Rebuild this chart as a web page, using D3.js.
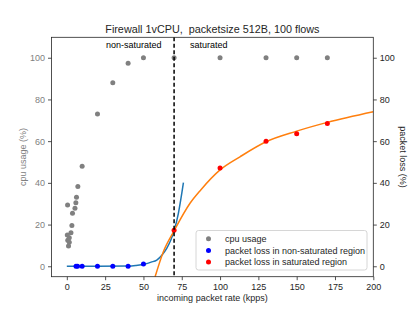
<!DOCTYPE html>
<html>
<head>
<meta charset="utf-8">
<script src="https://cdn.jsdelivr.net/npm/d3@7"></script>
<style>
  body { margin: 0; background: #fff; }
  svg { font-family: "Liberation Sans", Arial, sans-serif; }
</style>
</head>
<body>
<script>
// cpu usage measurements (left axis)
const cpuX = [0.3, 0.5, 0.6, 1.1, 1.6, 1.6, 2.7, 3.3, 3.7, 5.3, 5.9, 6.3, 7.2, 10, 20, 30, 40, 50, 70, 100, 130, 150, 170];
const cpuY = [15, 29.4, 12.5, 9.7, 11.5, 13.7, 16.1, 19.5, 25.4, 27.8, 30.5, 33.1, 38.3, 48, 73, 88, 97.3, 100, 100, 100, 100, 100, 100];

// packet loss, non-saturated region (right axis)
const lossNsX = [6, 7, 10, 20, 30, 40, 50];
const lossNsY = [0, 0, 0, 0, 0, 0, 1.1];

// packet loss, saturated region (right axis)
const lossSX = [70, 100, 130, 150, 170];
const lossSY = [17.3, 47.1, 60, 63.6, 68.5];

// fitted curves
const fitNsX = [0, 20, 40, 45, 51, 55, 58.7, 62, 65.2, 68, 70, 72.8, 76.1];
const fitNsY = [0, 0, 0.1, 0.4, 1.1, 2, 3, 5.3, 8.6, 12.8, 17, 25.4, 40.1];
const fitSX = [57.6, 63, 70, 80.4, 87.4, 100, 113, 130, 150, 170, 200];
const fitSY = [-5, 7, 17, 30.2, 36.6, 46.2, 52.5, 59.7, 64.8, 69, 74.1];

const xTicks = [0, 25, 50, 75, 100, 125, 150, 175, 200];
const yTicks = [0, 20, 40, 60, 80, 100];
const saturationX = 70;

const W = 415, H = 311;
const pLeft = 51.5, pRight = 373.3, pTop = 37.3, pBottom = 276.7;
const dark = "#262626";

const svg = d3.select("body").append("svg")
    .attr("width", W)
    .attr("height", H);

const x = d3.scaleLinear().domain([-10, 200]).range([pLeft, pRight]);
const y = d3.scaleLinear().domain([-5, 109.8]).range([pBottom, pTop]);

svg.append("defs").append("clipPath").attr("id", "plot")
    .append("rect")
    .attr("x", pLeft).attr("y", pTop)
    .attr("width", pRight - pLeft).attr("height", pBottom - pTop);

// title
svg.append("text")
    .attr("x", (pLeft + pRight) / 2)
    .attr("y", 32.5)
    .attr("text-anchor", "middle")
    .attr("font-size", 10.8)
    .attr("fill", dark)
    .style("white-space", "pre")
    .text("Firewall 1vCPU,  packetsize 512B, 100 flows");

// axes
function styleAxis(g, color) {
    g.select(".domain").remove();
    g.selectAll(".tick line").attr("stroke", dark).attr("stroke-width", 0.8);
    g.selectAll(".tick text").attr("fill", color).attr("font-size", 9)
        .attr("font-family", "Liberation Sans, Arial, sans-serif");
}

svg.append("g")
    .attr("transform", `translate(0,${pBottom})`)
    .call(d3.axisBottom(x).tickValues(xTicks).tickSize(3.5).tickPadding(3))
    .call(g => styleAxis(g, dark));

svg.append("g")
    .attr("transform", `translate(${pLeft},0)`)
    .call(d3.axisLeft(y).tickValues(yTicks).tickSize(3.5).tickPadding(3))
    .call(g => styleAxis(g, "#808080"));

svg.append("g")
    .attr("transform", `translate(${pRight},0)`)
    .call(d3.axisRight(y).tickValues(yTicks).tickSize(3.5).tickPadding(3))
    .call(g => styleAxis(g, dark));

// axis labels
svg.append("text")
    .attr("x", (pLeft + pRight) / 2)
    .attr("y", 301)
    .attr("text-anchor", "middle")
    .attr("font-size", 9)
    .attr("fill", dark)
    .text("incoming packet rate (kpps)");

svg.append("text")
    .attr("transform", `translate(25.5,${(pTop + pBottom) / 2}) rotate(-90)`)
    .attr("text-anchor", "middle")
    .attr("font-size", 9)
    .attr("fill", "#808080")
    .text("cpu usage (%)");

svg.append("text")
    .attr("transform", `translate(400,${(pTop + pBottom) / 2}) rotate(90)`)
    .attr("text-anchor", "middle")
    .attr("font-size", 9)
    .attr("fill", dark)
    .text("packet loss (%)");

const plot = svg.append("g").attr("clip-path", "url(#plot)");

// cpu points
plot.selectAll(".cpu")
    .data(cpuX.map((d, i) => [d, cpuY[i]]))
    .enter().append("circle")
    .attr("cx", d => x(d[0]))
    .attr("cy", d => y(d[1]))
    .attr("r", 2.5)
    .attr("fill", "#808080");

// fitted lines
const line = d3.line().x(d => x(d[0])).y(d => y(d[1])).curve(d3.curveMonotoneX);

plot.append("path")
    .datum(fitNsX.map((d, i) => [d, fitNsY[i]]))
    .attr("d", line)
    .attr("fill", "none")
    .attr("stroke", "#1f77b4")
    .attr("stroke-width", 1.5);

plot.append("path")
    .datum(fitSX.map((d, i) => [d, fitSY[i]]))
    .attr("d", line)
    .attr("fill", "none")
    .attr("stroke", "#ff7f0e")
    .attr("stroke-width", 1.5);

// loss points
plot.selectAll(".ns")
    .data(lossNsX.map((d, i) => [d, lossNsY[i]]))
    .enter().append("circle")
    .attr("cx", d => x(d[0]))
    .attr("cy", d => y(d[1]))
    .attr("r", 2.5)
    .attr("fill", "blue");

plot.selectAll(".s")
    .data(lossSX.map((d, i) => [d, lossSY[i]]))
    .enter().append("circle")
    .attr("cx", d => x(d[0]))
    .attr("cy", d => y(d[1]))
    .attr("r", 2.5)
    .attr("fill", "red");

// saturation boundary
svg.append("line")
    .attr("x1", x(saturationX)).attr("x2", x(saturationX))
    .attr("y1", pTop).attr("y2", pBottom)
    .attr("stroke", "black")
    .attr("stroke-width", 1.5)
    .attr("stroke-dasharray", "4,2.5");

svg.append("text")
    .attr("x", 106).attr("y", 47.5)
    .attr("font-size", 9).attr("fill", "black")
    .text("non-saturated");

svg.append("text")
    .attr("x", 190).attr("y", 47.5)
    .attr("font-size", 9).attr("fill", "black")
    .text("saturated");

// frame
svg.append("rect")
    .attr("x", pLeft).attr("y", pTop)
    .attr("width", pRight - pLeft).attr("height", pBottom - pTop)
    .attr("fill", "none")
    .attr("stroke", dark)
    .attr("stroke-width", 0.8);

// legend
const legendItems = [
    { label: "cpu usage", color: "#808080" },
    { label: "packet loss in non-saturated region", color: "blue" },
    { label: "packet loss in saturated region", color: "red" }
];

const legend = svg.append("g");
legend.append("rect")
    .attr("x", 196).attr("y", 230.5)
    .attr("width", 171).attr("height", 39.5)
    .attr("rx", 2.5)
    .attr("fill", "white").attr("fill-opacity", 0.8)
    .attr("stroke", "#cccccc").attr("stroke-width", 0.8);

legendItems.forEach((d, i) => {
    const cy = 238.7 + i * 11.7;
    legend.append("circle")
        .attr("cx", 208.5).attr("cy", cy).attr("r", 2.5)
        .attr("fill", d.color);
    legend.append("text")
        .attr("x", 225).attr("y", cy + 3.2)
        .attr("font-size", 9).attr("fill", dark)
        .text(d.label);
});
</script>
</body>
</html>
